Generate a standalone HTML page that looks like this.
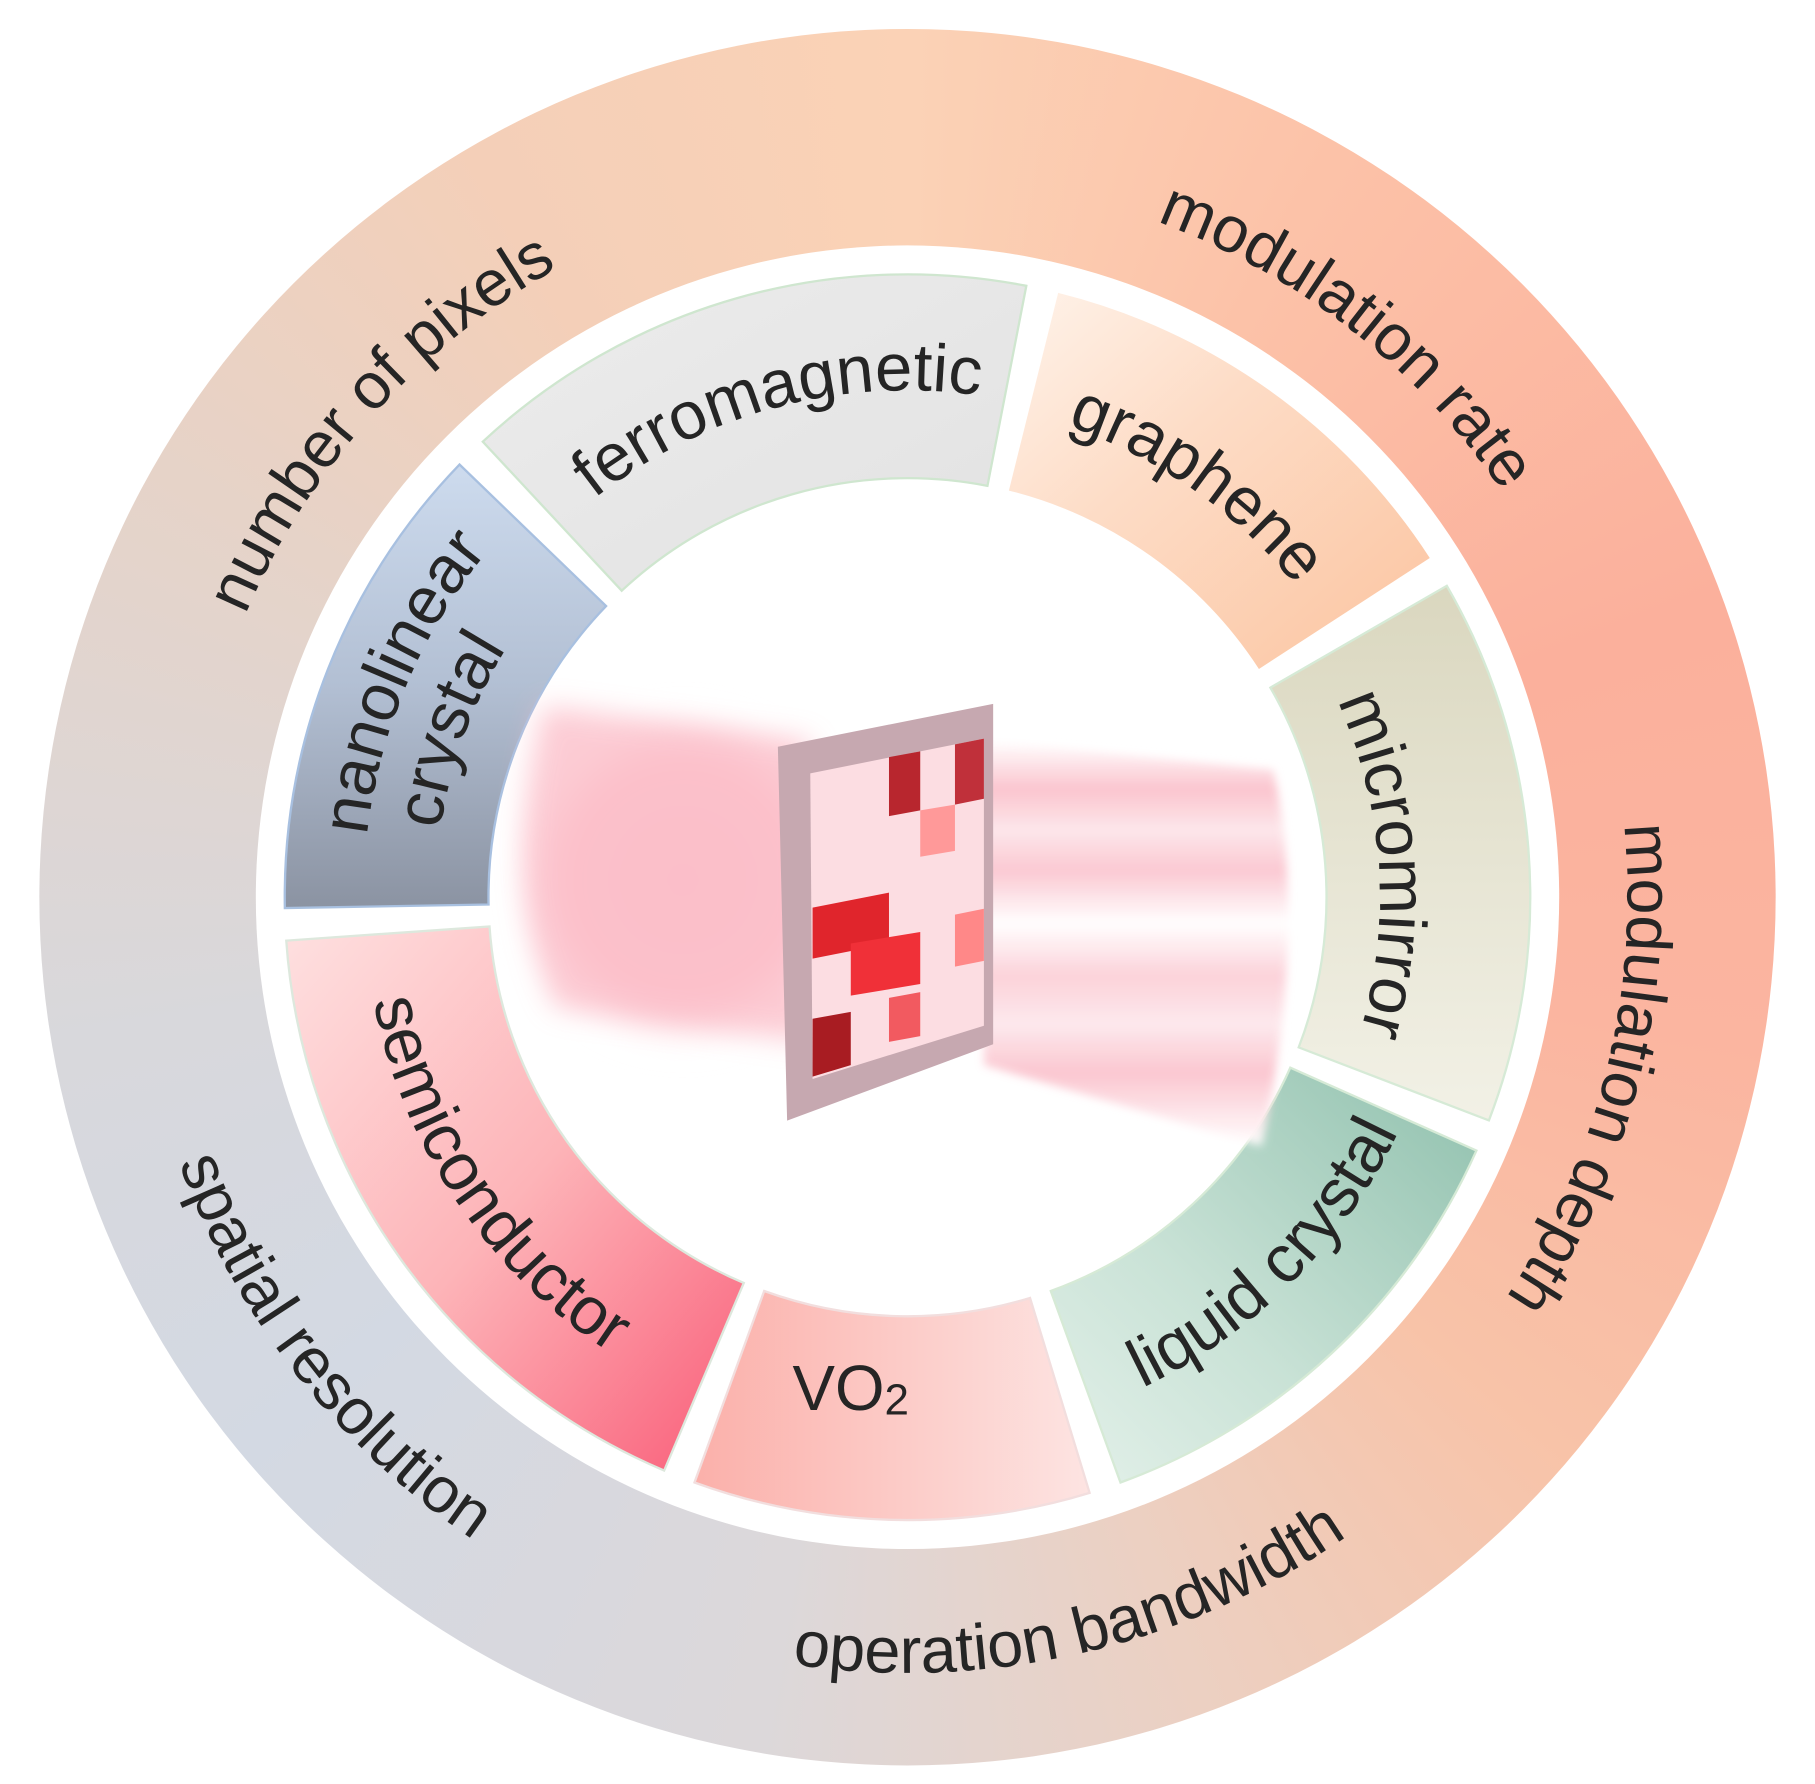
<!DOCTYPE html>
<html><head><meta charset="utf-8">
<style>
html,body{margin:0;padding:0;background:#fff;width:1815px;height:1784px;overflow:hidden}
#wrap{position:absolute;left:0;top:0;width:1568px;height:1541px;transform:scale(1.15753,1.15769);transform-origin:0 0}
#ring{position:absolute;left:34px;top:25px;width:1500px;height:1500px;border-radius:50%;
background:conic-gradient(from 0deg,#fbd2b6 0deg,#fcc2a8 30deg,#fbb09c 70deg,#fbb5a0 100deg,#f8c3a8 130deg,#ecd0c2 160deg,#dcd8da 190deg,#d3d9e3 230deg,#d8d8dc 260deg,#e6d3c8 300deg,#f4cfb8 330deg,#fbd2b6 360deg)}
#hole{position:absolute;left:221px;top:212px;width:1126px;height:1126px;border-radius:50%;background:#fff}
svg{position:absolute;left:0;top:0}
text{font-family:"Liberation Sans",sans-serif;fill:#252525}
</style></head><body>
<div id="wrap">
<div id="ring"></div><div id="hole"></div>
<svg id="s" width="1568" height="1541" viewBox="0 0 1568 1541">
<defs>
<linearGradient id="gFe" x1="0" y1="0" x2="1" y2="1"><stop offset="0" stop-color="#ececec"/><stop offset="1" stop-color="#e2e2e2"/></linearGradient>
<linearGradient id="gGr" x1="0" y1="0" x2="1" y2="1"><stop offset="0" stop-color="#fff3ea"/><stop offset="0.4" stop-color="#fddcc6"/><stop offset="1" stop-color="#fcc4a0"/></linearGradient>
<linearGradient id="gMi" x1="0" y1="0" x2="0" y2="1"><stop offset="0" stop-color="#dad7bf"/><stop offset="1" stop-color="#f2f1e6"/></linearGradient>
<linearGradient id="gLc" x1="1" y1="0" x2="0" y2="1"><stop offset="0" stop-color="#8fc0ad"/><stop offset="0.6" stop-color="#c9e2d6"/><stop offset="1" stop-color="#e4f1ea"/></linearGradient>
<linearGradient id="gVo" x1="0" y1="0" x2="1" y2="0"><stop offset="0" stop-color="#fbb0aa"/><stop offset="1" stop-color="#fde4e2"/></linearGradient>
<linearGradient id="gSe" x1="0" y1="0" x2="1" y2="1"><stop offset="0" stop-color="#fee0e0"/><stop offset="0.5" stop-color="#fdb4b8"/><stop offset="1" stop-color="#f95c78"/></linearGradient>
<linearGradient id="gNa" x1="0" y1="0" x2="0" y2="1"><stop offset="0" stop-color="#cddbee"/><stop offset="0.5" stop-color="#b2bfd3"/><stop offset="1" stop-color="#8b93a2"/></linearGradient>
<radialGradient id="gBlob" cx="0.5" cy="0.5" r="0.5"><stop offset="0" stop-color="#fbb8c4"/><stop offset="0.7" stop-color="#fcc4ce"/><stop offset="1" stop-color="#fff" stop-opacity="0"/></radialGradient>
<linearGradient id="gBeam" x1="0" y1="0" x2="0" y2="1">
<stop offset="0" stop-color="#fff"/><stop offset="0.12" stop-color="#fbc2cc"/><stop offset="0.22" stop-color="#fde6ea"/><stop offset="0.32" stop-color="#fbc6d0"/><stop offset="0.45" stop-color="#fff"/><stop offset="0.58" stop-color="#fcd0d8"/><stop offset="0.7" stop-color="#fde8ec"/><stop offset="0.82" stop-color="#fbc4ce"/><stop offset="1" stop-color="#fff"/></linearGradient>
<filter id="bl"><feGaussianBlur stdDeviation="12"/></filter>
<filter id="bl2"><feGaussianBlur stdDeviation="4"/></filter>
</defs>
<g id="segs"></g>
<ellipse cx="590" cy="760" rx="150" ry="150" fill="url(#gBlob)" filter="url(#bl)"/>
<path d="M470 610 L700 640 L700 900 L480 870 Q430 760 470 610Z" fill="#fcc0ca" opacity="0.8" filter="url(#bl)"/>
<path d="M850 640 L1100 665 Q1130 800 1090 990 L850 920 Z" fill="url(#gBeam)" filter="url(#bl2)" opacity="0.95"/>
<polygon points="672,645 858,608 858,902 680,968" fill="#c6a8b0"/>
<polygon points="700,668 850,638 850,886 702,932" fill="#fcdde2"/>
<g>
<polygon points="768,654 795,649 795,700 768,705" fill="#b8262e"/>
<polygon points="825,643 850,638 850,690 825,695" fill="#c0303a"/>
<polygon points="795,700 825,695 825,735 795,740" fill="#f99"/>
<polygon points="702,784 768,771 768,815 702,828" fill="#e0252c"/>
<polygon points="735,815 795,805 795,850 735,860" fill="#f03038"/>
<polygon points="825,790 850,785 850,830 825,835" fill="#f88"/>
<polygon points="702,880 735,874 735,920 702,930" fill="#a81c22"/>
<polygon points="768,862 795,857 795,895 768,900" fill="#f25a60"/>
</g>
<g id="labels"></g>
<text x="735" y="1218" font-size="55" text-anchor="middle">VO<tspan font-size="38" dy="4">2</tspan></text>
</svg>
</div>
<script>
var cx=784,cy=775,NS="http://www.w3.org/2000/svg";
function P(r,t){t=t*Math.PI/180;return [cx+r*Math.sin(t),cy-r*Math.cos(t)];}
function seg(a,b,r1,r2,fill,stroke){
 var p1=P(r2,a),p2=P(r2,b),p3=P(r1,b),p4=P(r1,a);var lg=(b-a)>180?1:0;
 var d="M"+p1+" A"+r2+" "+r2+" 0 "+lg+" 1 "+p2+" L"+p3+" A"+r1+" "+r1+" 0 "+lg+" 0 "+p4+"Z";
 var e=document.createElementNS(NS,"path");e.setAttribute("d",d);e.setAttribute("fill",fill);
 e.setAttribute("stroke",stroke);e.setAttribute("stroke-width","2");document.getElementById("segs").appendChild(e);}
seg(-43,11,362,538,"url(#gFe)","#cfe6cf");
seg(14,57,362,538,"url(#gGr)","none");
seg(60,111,362,538,"url(#gMi)","#d6ead6");
seg(114,160,362,538,"url(#gLc)","#d6ead6");
seg(163,200,362,538,"url(#gVo)","#f2dede");
seg(203,266,362,538,"url(#gSe)","#dde8dd");
seg(269,314,362,538,"url(#gNa)","#a8c0e0");
var n=0;
function lab(txt,m,r,cw,fs){
 n++;var id="tp"+n,d;
 if(cw){var p1=P(r,m-90),p2=P(r,m+90);d="M"+p1+" A"+r+" "+r+" 0 0 1 "+p2;}
 else{var p1=P(r,m+90),p2=P(r,m-90);d="M"+p1+" A"+r+" "+r+" 0 0 0 "+p2;}
 var pa=document.createElementNS(NS,"path");pa.setAttribute("id",id);pa.setAttribute("d",d);pa.setAttribute("fill","none");
 var L=document.getElementById("labels");L.appendChild(pa);
 var t=document.createElementNS(NS,"text");t.setAttribute("font-size",fs);t.setAttribute("text-anchor","middle");
 var tp=document.createElementNS(NS,"textPath");tp.setAttribute("href","#"+id);tp.setAttribute("startOffset","50%");tp.textContent=txt;
 t.appendChild(tp);L.appendChild(t);}
lab("number of pixels",-48,622,true,56);
lab("modulation rate",38,622,true,56);
lab("modulation depth",104,622,true,56);
lab("spatial resolution",232,670,false,56);
lab("operation bandwidth",167,670,false,56);
lab("ferromagnetic",-15,438,true,58);
lab("graphene",35,430,true,58);
lab("micromirror",86,408,true,58);
lab("liquid crystal",135,470,false,58);
lab("semiconductor",236,470,false,58);
lab("nanolinear",-67,470,true,58);
lab("crystal",-70,408,true,58);
</script>
</body></html>
